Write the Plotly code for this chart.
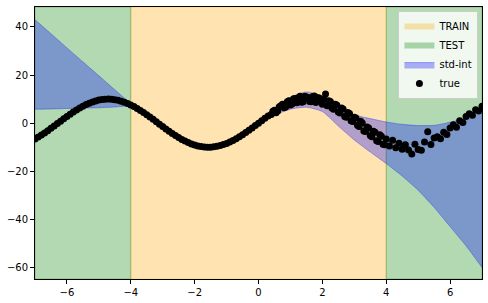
import plotly.graph_objects as go

# ---- data ----
smooth_x = [-7.0, -6.9, -6.8, -6.7, -6.6, -6.5, -6.4, -6.3, -6.2, -6.1,
            -6.0, -5.9, -5.8, -5.7, -5.6, -5.5, -5.4, -5.3, -5.2, -5.1,
            -5.0, -4.9, -4.8, -4.7, -4.6, -4.5, -4.4, -4.3, -4.2, -4.1,
            -4.0, -3.9, -3.8, -3.7, -3.6, -3.5, -3.4, -3.3, -3.2, -3.1,
            -3.0, -2.9, -2.8, -2.7, -2.6, -2.5, -2.4, -2.3, -2.2, -2.1,
            -2.0, -1.9, -1.8, -1.7, -1.6, -1.5, -1.4, -1.3, -1.2, -1.1,
            -1.0, -0.9, -0.8, -0.7, -0.6, -0.5, -0.4, -0.3, -0.2, -0.1,
            0.0, 0.1, 0.2, 0.3]
smooth_y = [-6.57, -5.78, -4.94, -4.05, -3.12, -2.15, -1.17, -0.17, 0.83, 1.82,
            2.79, 3.74, 4.65, 5.51, 6.31, 7.06, 7.73, 8.32, 8.84, 9.26,
            9.59, 9.82, 9.96, 10.00, 9.94, 9.78, 9.52, 9.16, 8.72, 8.18,
            7.57, 6.88, 6.12, 5.30, 4.43, 3.51, 2.56, 1.58, 0.58, -0.42,
            -1.41, -2.39, -3.35, -4.27, -5.16, -5.98, -6.76, -7.46, -8.09, -8.63,
            -9.09, -9.46, -9.74, -9.92, -10.00, -9.97, -9.85, -9.64, -9.32, -8.91,
            -8.41, -7.83, -7.17, -6.44, -5.65, -4.79, -3.89, -2.96, -1.99, -1.00,
            0.00, 1.00, 1.99, 2.96]

noisy_a_x = [0.4, 0.5, 0.6, 0.7, 0.8, 0.9, 1.0, 1.1, 1.2, 1.3,
             1.4, 1.5, 1.6, 1.7, 1.8, 1.9, 2.0, 2.1, 2.2, 2.3,
             2.4, 2.5, 2.6, 2.7, 2.8, 2.9, 3.0, 3.1, 3.2, 3.3,
             3.4, 3.5, 3.6, 3.7, 3.8, 3.9, 4.0, 4.1, 4.2, 4.3,
             4.4, 4.5, 4.6, 4.7, 4.8, 4.9, 5.0, 5.1, 5.2, 5.3,
             5.4, 5.5, 5.6, 5.7, 5.8, 5.9, 6.0, 6.1, 6.2, 6.3,
             6.4, 6.5, 6.6, 6.7, 6.8, 6.9, 7.0]
noisy_a_y = [3.6, 5.4, 5.1, 7.2, 6.4, 8.9, 7.6, 10.1, 8.5, 11.2,
             8.9, 10.9, 9.0, 11.1, 8.6, 10.5, 7.9, 12.1, 9.3, 6.3,
             7.9, 4.6, 6.3, 2.8, 4.4, 1.0, 2.5, -0.9, 0.8, -3.3,
             -1.6, -5.1, -3.4, -7.3, -4.8, -8.8, -6.6, -9.5, -7.1, -10.2,
             -8.4, -10.9, -9.0, -11.2, -12.8, -8.8, -11.0, -11.3, -7.8, -3.6,
             -8.9, -6.2, -5.7, -6.5, -3.8, -4.7, -2.0, -0.7, -1.7, 1.0,
             0.3, 2.8, 3.9, 3.3, 5.6, 5.1, 7.0]

noisy_b_x = [0.45, 0.55, 0.65, 0.75, 0.85, 0.95, 1.05, 1.15, 1.25, 1.35,
             1.45, 1.55, 1.65, 1.75, 1.85, 1.95, 2.05, 2.15, 2.25, 2.35,
             2.45, 2.55, 2.65, 2.75, 2.85, 2.95, 3.05, 3.15, 3.25, 3.35,
             3.45, 3.55, 3.65, 3.75, 3.85, 3.95]
noisy_b_y = [5.0, 4.3, 6.8, 7.9, 6.7, 9.3, 8.0, 10.3, 10.6, 8.7,
             11.2, 10.7, 8.9, 11.3, 10.6, 9.6, 9.9, 7.2, 9.0, 5.8,
             7.6, 4.2, 5.9, 2.5, 4.0, 0.7, 2.1, -1.4, 0.1, -3.5,
             -2.0, -5.6, -3.8, -7.6, -5.4, -9.0]

true_x = smooth_x + noisy_a_x + noisy_b_x
true_y = smooth_y + noisy_a_y + noisy_b_y

band_x = [-7, -6.5, -6, -5.5, -5, -4.5, -4, -3.5, -3, -2.5, -2, -1.5, -1, -0.5,
          0, 0.5, 1, 1.5, 2, 2.5, 3, 3.5, 4, 4.5, 5, 5.5, 6, 6.5, 7]
band_lower = [5.8, 5.9, 6.1, 6.25, 6.4, 6.7, 7.0, 3.0, -1.9, -6.5, -9.6, -10.5, -8.9, -5.3,
              -0.8, 3.3, 5.8, 6.6, 4.8, -1.2, -7.0, -12.0, -16.8, -22.0, -27.9, -35.0, -43.0, -51.0, -60.0]
band_upper = [43.0, 37.2, 31.3, 25.5, 19.7, 13.9, 8.2, 4.0, -0.9, -5.5, -8.6, -9.5, -7.9, -4.3,
              0.8, 6.4, 10.8, 13.0, 11.3, 7.2, 3.5, 1.9, 0.5, -0.5, -1.0, -0.9, 0.4, 2.3, 6.0]

train_range = [-4, 4]
test_ranges = [[-7, -4], [4, 7]]
x_ticks = [-6, -4, -2, 0, 2, 4, 6]
y_ticks = [-60, -40, -20, 0, 20, 40]

ORANGE = "rgba(255,165,0,0.3)"
GREEN = "rgba(0,128,0,0.3)"
BLUE = "rgba(0,0,255,0.3)"

fig = go.Figure()

# legend dummies for spans
fig.add_trace(go.Scatter(x=[None], y=[None], mode="none", fill="toself",
                         fillcolor=ORANGE, name="TRAIN"))
fig.add_trace(go.Scatter(x=[None], y=[None], mode="none", fill="toself",
                         fillcolor=GREEN, name="TEST"))

fig.add_trace(go.Scatter(x=band_x, y=band_lower, mode="lines",
                         line=dict(color=BLUE, width=1, shape="spline", smoothing=0.6),
                         showlegend=False, hoverinfo="skip"))
fig.add_trace(go.Scatter(x=band_x, y=band_upper, mode="lines", fill="tonexty",
                         fillcolor=BLUE,
                         line=dict(color=BLUE, width=1, shape="spline", smoothing=0.6),
                         name="std-int"))

fig.add_trace(go.Scatter(x=true_x, y=true_y, mode="markers",
                         marker=dict(color="black", size=7, line=dict(width=0)),
                         name="true"))

# spans
fig.add_shape(type="rect", xref="x", yref="paper", x0=train_range[0], x1=train_range[1],
              y0=0, y1=1, fillcolor=ORANGE, line=dict(color=ORANGE, width=1), layer="below")
for r in test_ranges:
    fig.add_shape(type="rect", xref="x", yref="paper", x0=r[0], x1=r[1],
                  y0=0, y1=1, fillcolor=GREEN, line=dict(color=GREEN, width=1), layer="below")

axis_common = dict(showline=True, linecolor="black", linewidth=1, mirror=True,
                   ticks="outside", ticklen=4, tickwidth=1, tickcolor="black",
                   showgrid=False, zeroline=False,
                   tickfont=dict(family="DejaVu Sans", size=10, color="black"))

fig.update_xaxes(range=[-7, 7], tickvals=x_ticks, **axis_common)
fig.update_yaxes(range=[-64.8, 48.3], tickvals=y_ticks, **axis_common)

fig.update_layout(
    width=488, height=303,
    margin=dict(l=35, r=6, t=7, b=24),
    paper_bgcolor="white", plot_bgcolor="white",
    font=dict(family="DejaVu Sans", size=10, color="black"),
    legend=dict(x=0.992, y=0.985, xanchor="right", yanchor="top",
                traceorder="normal",
                bgcolor="rgba(255,255,255,0.8)", bordercolor="#cccccc", borderwidth=1,
                font=dict(size=10), itemwidth=30, tracegroupgap=0),
    showlegend=True,
)

fig.write_html("out.html")
